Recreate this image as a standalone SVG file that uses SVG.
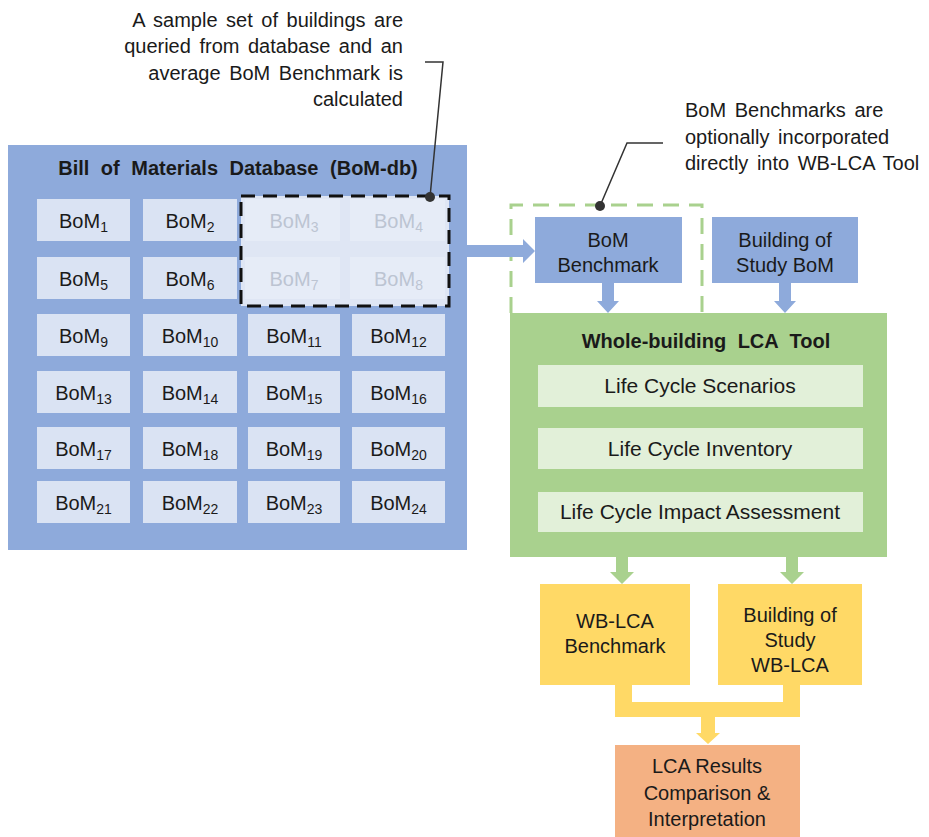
<svg xmlns="http://www.w3.org/2000/svg" width="929" height="837" viewBox="0 0 929 837">
<style>
text{font-family:"Liberation Sans",Arial,sans-serif;fill:#1a1a1a}
.t{font-size:20px;text-anchor:middle}
.t21{font-size:21px;text-anchor:middle}
.b{font-size:20px;font-weight:bold;text-anchor:middle;word-spacing:6px}
.ann{font-size:20px;word-spacing:3px}
.cell{fill:#dae3f3}
.fcell{fill:#e6ecf7}
.ft{fill:#bcc4d2}
.sub{font-size:14px}
.blue{fill:#8eaadb}
.green{fill:#a9d18e}
.lg{fill:#e2f0d9}
.yel{fill:#ffd966}
.org{fill:#f4b183}
.lead{fill:none;stroke:#333;stroke-width:1.5}
</style>
<rect width="929" height="837" fill="#ffffff"/>

<g id="annotation-sample">
<text class="ann" text-anchor="end" x="403" y="27">A sample set of buildings are</text>
<text class="ann" text-anchor="end" x="403" y="53">queried from database and an</text>
<text class="ann" text-anchor="end" x="403" y="80">average BoM Benchmark is</text>
<text class="ann" text-anchor="end" x="403" y="106">calculated</text>
</g>

<g id="annotation-optional">
<text class="ann" x="685" y="117">BoM Benchmarks are</text>
<text class="ann" x="685" y="144">optionally incorporated</text>
<text class="ann" x="685" y="170">directly into WB-LCA Tool</text>
</g>

<g id="bom-db">
<rect class="blue" x="8" y="145" width="459" height="405"/>
<text class="b" x="238" y="175">Bill of Materials Database (BoM-db)</text>
<rect x="241" y="196" width="208" height="110" fill="#dfe6f4"/>
<g id="cells">
<rect class="cell" x="37" y="199" width="93" height="42"/><text class="t" x="83.5" y="228">BoM<tspan class="sub" dy="4">1</tspan></text>
<rect class="cell" x="143" y="199" width="94" height="42"/><text class="t" x="190" y="228">BoM<tspan class="sub" dy="4">2</tspan></text>
<rect class="fcell" x="245" y="199" width="95" height="42"/><text class="t ft" x="294" y="228">BoM<tspan class="sub" dy="4">3</tspan></text>
<rect class="fcell" x="350" y="199" width="95" height="42"/><text class="t ft" x="398.5" y="228">BoM<tspan class="sub" dy="4">4</tspan></text>

<rect class="cell" x="37" y="257" width="93" height="42"/><text class="t" x="83.5" y="286">BoM<tspan class="sub" dy="4">5</tspan></text>
<rect class="cell" x="143" y="257" width="94" height="42"/><text class="t" x="190" y="286">BoM<tspan class="sub" dy="4">6</tspan></text>
<rect class="fcell" x="245" y="257" width="95" height="42"/><text class="t ft" x="294" y="286">BoM<tspan class="sub" dy="4">7</tspan></text>
<rect class="fcell" x="350" y="257" width="95" height="42"/><text class="t ft" x="398.5" y="286">BoM<tspan class="sub" dy="4">8</tspan></text>

<rect class="cell" x="37" y="314" width="93" height="42"/><text class="t" x="83.5" y="343">BoM<tspan class="sub" dy="4">9</tspan></text>
<rect class="cell" x="143" y="314" width="94" height="42"/><text class="t" x="190" y="343">BoM<tspan class="sub" dy="4">10</tspan></text>
<rect class="cell" x="248" y="314" width="92" height="42"/><text class="t" x="294" y="343">BoM<tspan class="sub" dy="4">11</tspan></text>
<rect class="cell" x="352" y="314" width="93" height="42"/><text class="t" x="398.5" y="343">BoM<tspan class="sub" dy="4">12</tspan></text>

<rect class="cell" x="37" y="371" width="93" height="42"/><text class="t" x="83.5" y="400">BoM<tspan class="sub" dy="4">13</tspan></text>
<rect class="cell" x="143" y="371" width="94" height="42"/><text class="t" x="190" y="400">BoM<tspan class="sub" dy="4">14</tspan></text>
<rect class="cell" x="248" y="371" width="92" height="42"/><text class="t" x="294" y="400">BoM<tspan class="sub" dy="4">15</tspan></text>
<rect class="cell" x="352" y="371" width="93" height="42"/><text class="t" x="398.5" y="400">BoM<tspan class="sub" dy="4">16</tspan></text>

<rect class="cell" x="37" y="427" width="93" height="42"/><text class="t" x="83.5" y="456">BoM<tspan class="sub" dy="4">17</tspan></text>
<rect class="cell" x="143" y="427" width="94" height="42"/><text class="t" x="190" y="456">BoM<tspan class="sub" dy="4">18</tspan></text>
<rect class="cell" x="248" y="427" width="92" height="42"/><text class="t" x="294" y="456">BoM<tspan class="sub" dy="4">19</tspan></text>
<rect class="cell" x="352" y="427" width="93" height="42"/><text class="t" x="398.5" y="456">BoM<tspan class="sub" dy="4">20</tspan></text>

<rect class="cell" x="37" y="481" width="93" height="42"/><text class="t" x="83.5" y="510">BoM<tspan class="sub" dy="4">21</tspan></text>
<rect class="cell" x="143" y="481" width="94" height="42"/><text class="t" x="190" y="510">BoM<tspan class="sub" dy="4">22</tspan></text>
<rect class="cell" x="248" y="481" width="92" height="42"/><text class="t" x="294" y="510">BoM<tspan class="sub" dy="4">23</tspan></text>
<rect class="cell" x="352" y="481" width="93" height="42"/><text class="t" x="398.5" y="510">BoM<tspan class="sub" dy="4">24</tspan></text>
</g>
<rect x="241" y="196" width="208" height="110" fill="none" stroke="#111" stroke-width="3" stroke-dasharray="14 8"/>
</g>

<g id="bom-benchmark">
<rect class="blue" x="535" y="217" width="147" height="66"/>
<text class="t" x="608" y="247">BoM</text>
<text class="t" x="608" y="272">Benchmark</text>
</g>

<g id="study-bom">
<rect class="blue" x="712" y="217" width="146" height="66"/>
<text class="t" x="785" y="247">Building of</text>
<text class="t" x="785" y="272">Study BoM</text>
</g>

<g id="wblca-tool">
<rect class="green" x="510" y="313" width="377" height="244"/>
<text class="b" x="706" y="348">Whole-building LCA Tool</text>
<rect class="lg" x="538" y="365" width="325" height="42"/>
<text class="t21" x="700" y="393">Life Cycle Scenarios</text>
<rect class="lg" x="538" y="428" width="325" height="41"/>
<text class="t21" x="700" y="456">Life Cycle Inventory</text>
<rect class="lg" x="538" y="492" width="325" height="40"/>
<text class="t21" x="700" y="519">Life Cycle Impact Assessment</text>
</g>

<g id="optional-boundary">
<path d="M511,313 V205 H702 V313" fill="none" stroke="#a9d18e" stroke-width="3" stroke-dasharray="16 10"/>
</g>

<g id="wblca-benchmark">
<rect class="yel" x="540" y="584" width="150" height="101"/>
<text class="t" x="615" y="628">WB-LCA</text>
<text class="t" x="615" y="653">Benchmark</text>
</g>

<g id="study-wblca">
<rect class="yel" x="718" y="584" width="144" height="101"/>
<text class="t" x="790" y="622">Building of</text>
<text class="t" x="790" y="647">Study</text>
<text class="t" x="790" y="672">WB-LCA</text>
</g>

<g id="lca-results">
<rect class="org" x="615" y="745" width="185" height="92"/>
<text class="t" x="707" y="773">LCA Results</text>
<text class="t" x="707" y="800">Comparison &amp;</text>
<text class="t" x="707" y="826">Interpretation</text>
</g>

<g id="connectors">
<polygon class="blue" points="467,245 523,245 523,239 535,251 523,263 523,257 467,257"/>
<polygon class="blue" points="602,283 614,283 614,301 619,301 608,313 597,301 602,301"/>
<polygon class="blue" points="779,283 791,283 791,301 796,301 785,313 774,301 779,301"/>
<polygon class="green" points="616,557 628,557 628,572 634,572 622,584 610,572 616,572"/>
<polygon class="green" points="786,557 798,557 798,572 804,572 792,584 780,572 786,572"/>
<path class="yel" d="M615,685 H632 V702 H783 V685 H800 V717 H715 V733 H720 L708,744 L696,733 H701 V717 H615 Z"/>
<path class="lead" d="M430,197 L443,62 H425"/>
<circle cx="430" cy="197" r="5" fill="#333"/>
<path class="lead" d="M600,206 L627,143 H663"/>
<circle cx="600" cy="206" r="5" fill="#333"/>
</g>
</svg>
